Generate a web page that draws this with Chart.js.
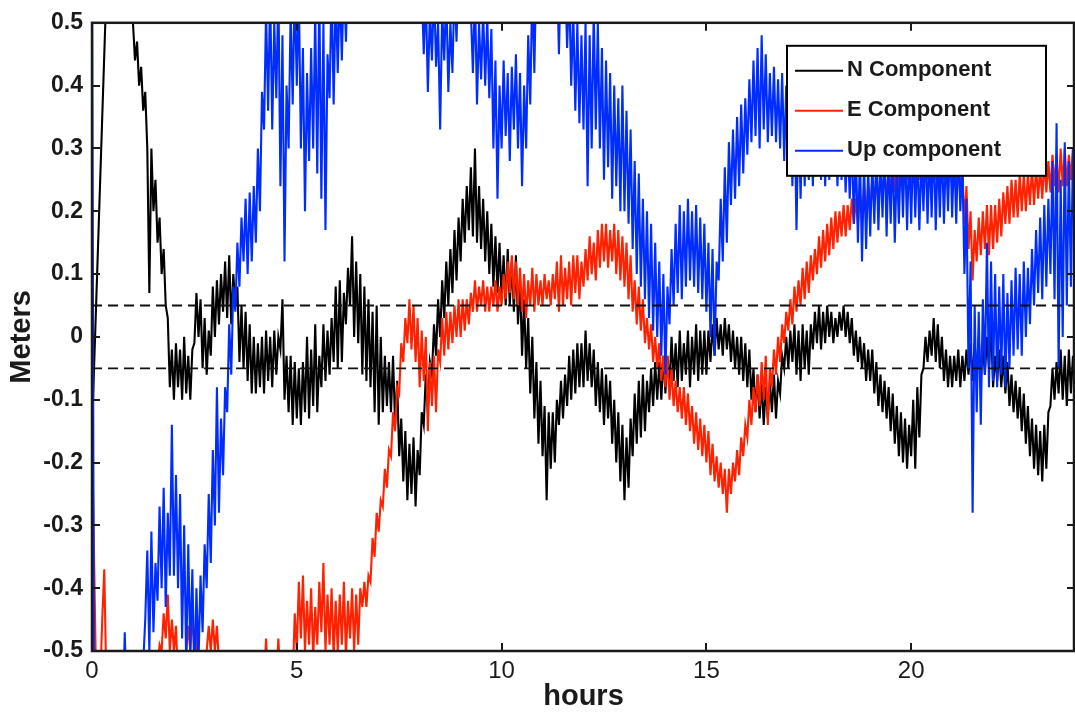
<!DOCTYPE html>
<html>
<head>
<meta charset="utf-8">
<title>GPS position components</title>
<script src="https://cdn.jsdelivr.net/npm/chart.js@4.4.1/dist/chart.umd.min.js"></script>
<style>
  html, body { margin: 0; padding: 0; background: #fff; }
  #wrap { width: 1075px; height: 718px; }
</style>
</head>
<body>
<div id="wrap"><canvas id="myChart"></canvas></div>
<script>
// one sample every 0.05 h, 0 .. 24 h (one row per hour)
const sampleStep = 0.05;

const nComponent = [
  -0.15, -0.05, 0.05, 0.15, 0.25, 0.35, 0.45, 0.55, 0.62, 0.65, 0.67, 0.68, 0.69, 0.68, 0.66, 0.64, 0.62, 0.60, 0.57, 0.54,
  0.50, 0.44, 0.47, 0.40, 0.43, 0.36, 0.39, 0.30, 0.07, 0.30, 0.20, 0.25, 0.15, 0.19, 0.10, 0.14, 0.05, 0.03, -0.08, -0.02,
  -0.10, -0.01, -0.08, -0.02, -0.10, 0.00, -0.09, -0.03, -0.10, -0.02, -0.01, 0.07, 0.00, 0.06, -0.05, 0.03, -0.06, 0.01, -0.03, 0.08,
  0.00, 0.09, 0.02, 0.10, 0.04, 0.12, 0.03, 0.13, 0.02, 0.10, 0.05, 0.08, -0.04, 0.05, -0.05, 0.04, -0.07, 0.02, -0.09, 0.00,
  -0.09, -0.01, -0.08, 0.00, -0.09, 0.01, -0.07, 0.00, -0.08, 0.01, -0.06, 0.00, -0.02, 0.06, -0.10, -0.03, -0.12, -0.03, -0.14, -0.04,
  -0.13, -0.05, -0.14, -0.04, -0.12, 0.00, -0.13, -0.02, -0.11, 0.02, -0.12, -0.03, -0.08, 0.02, -0.07, 0.01, -0.06, 0.03, -0.04, 0.08,
  -0.05, 0.09, -0.04, 0.07, 0.02, 0.11, 0.05, 0.16, 0.00, 0.12, -0.01, 0.10, -0.06, 0.08, -0.07, 0.06, -0.08, 0.04, -0.12, 0.05,
  -0.14, 0.00, -0.12, -0.03, -0.11, -0.04, -0.12, -0.03, -0.14, -0.07, -0.19, -0.13, -0.23, -0.15, -0.26, -0.17, -0.25, -0.16, -0.27, -0.18,
  -0.22, -0.12, -0.14, -0.06, -0.12, -0.04, -0.06, 0.02, -0.03, 0.06, 0.00, 0.09, 0.03, 0.12, 0.05, 0.14, 0.07, 0.17, 0.09, 0.19,
  0.12, 0.22, 0.15, 0.24, 0.17, 0.27, 0.16, 0.30, 0.15, 0.24, 0.14, 0.22, 0.12, 0.20, 0.10, 0.18, 0.08, 0.16, 0.07, 0.15,
  0.06, 0.13, 0.05, 0.14, 0.05, 0.12, 0.04, 0.13, 0.02, 0.09, -0.03, 0.06, -0.05, 0.03, -0.09, 0.00, -0.13, -0.04, -0.17, -0.07,
  -0.19, -0.11, -0.26, -0.12, -0.21, -0.12, -0.20, -0.10, -0.14, -0.07, -0.13, -0.06, -0.11, -0.03, -0.10, -0.02, -0.09, -0.01, -0.08, -0.01,
  -0.08, 0.01, -0.07, -0.01, -0.08, -0.02, -0.11, -0.04, -0.12, -0.05, -0.14, -0.06, -0.13, -0.07, -0.17, -0.10, -0.20, -0.12, -0.23, -0.14,
  -0.26, -0.16, -0.24, -0.13, -0.19, -0.09, -0.17, -0.07, -0.16, -0.06, -0.15, -0.07, -0.12, -0.05, -0.11, -0.04, -0.10, -0.04, -0.10, -0.03,
  -0.09, -0.03, -0.08, 0.00, -0.07, -0.01, -0.08, 0.01, -0.07, -0.01, -0.06, 0.01, -0.08, 0.00, -0.06, 0.02, -0.07, 0.01, -0.06, 0.01,
  -0.06, 0.01, -0.04, 0.02, -0.03, 0.03, -0.02, 0.02, -0.03, 0.03, -0.02, 0.02, -0.04, 0.01, -0.05, 0.00, -0.06, 0.00, -0.07, -0.01,
  -0.08, -0.02, -0.10, -0.05, -0.12, -0.06, -0.13, -0.07, -0.14, -0.08, -0.13, -0.07, -0.12, -0.06, -0.13, -0.07, -0.09, -0.03, -0.05, 0.00,
  -0.05, 0.01, -0.04, 0.02, -0.06, 0.01, -0.07, 0.02, -0.05, 0.01, -0.06, 0.02, -0.02, 0.04, -0.01, 0.05, -0.02, 0.04, -0.01, 0.05,
  0.00, 0.04, -0.01, 0.03, 0.00, 0.04, 0.01, 0.05, 0.00, 0.04, -0.01, 0.03, -0.03, 0.01, -0.04, 0.00, -0.05, -0.01, -0.07, -0.02,
  -0.07, -0.02, -0.09, -0.04, -0.11, -0.06, -0.12, -0.07, -0.13, -0.08, -0.15, -0.09, -0.17, -0.11, -0.19, -0.12, -0.20, -0.13, -0.21, -0.14,
  -0.19, -0.10, -0.21, -0.08, -0.16, -0.06, -0.05, 0.00, -0.04, 0.01, -0.03, 0.03, -0.04, 0.02, -0.05, 0.00, -0.07, -0.02, -0.08, -0.03,
  -0.08, -0.03, -0.07, -0.02, -0.08, -0.03, -0.07, -0.02, -0.06, -0.01, -0.07, -0.01, -0.06, 0.00, -0.07, -0.01, -0.06, 0.00, -0.05, 0.02,
  -0.08, -0.03, -0.07, -0.02, -0.08, -0.03, -0.09, -0.04, -0.11, -0.06, -0.12, -0.07, -0.13, -0.08, -0.15, -0.09, -0.17, -0.11, -0.19, -0.13,
  -0.21, -0.14, -0.22, -0.15, -0.23, -0.14, -0.21, -0.12, -0.11, -0.05, -0.10, -0.04, -0.09, -0.02, -0.10, -0.03, -0.11, -0.02, -0.09, -0.03,
  -0.06
];

const eComponent = [
  -0.15, -0.35, -0.55, -0.60, -0.55, -0.45, -0.37, -0.55, -0.60, -0.60, -0.60, -0.60, -0.60, -0.60, -0.60, -0.60, -0.60, -0.60, -0.60, -0.60,
  -0.60, -0.60, -0.60, -0.60, -0.60, -0.60, -0.60, -0.60, -0.60, -0.60, -0.60, -0.60, -0.53, -0.49, -0.50, -0.44, -0.48, -0.41, -0.50, -0.45,
  -0.50, -0.46, -0.55, -0.60, -0.60, -0.58, -0.50, -0.46, -0.50, -0.44, -0.50, -0.47, -0.56, -0.60, -0.58, -0.55, -0.50, -0.46, -0.50, -0.45,
  -0.50, -0.46, -0.52, -0.60, -0.60, -0.60, -0.60, -0.60, -0.60, -0.60, -0.60, -0.60, -0.60, -0.60, -0.60, -0.60, -0.60, -0.60, -0.60, -0.60,
  -0.60, -0.60, -0.60, -0.60, -0.55, -0.48, -0.55, -0.60, -0.60, -0.60, -0.55, -0.48, -0.55, -0.60, -0.60, -0.60, -0.60, -0.60, -0.55, -0.44,
  -0.50, -0.39, -0.48, -0.38, -0.50, -0.42, -0.49, -0.40, -0.51, -0.43, -0.49, -0.39, -0.47, -0.36, -0.50, -0.41, -0.49, -0.40, -0.51, -0.42,
  -0.50, -0.41, -0.49, -0.39, -0.51, -0.42, -0.48, -0.40, -0.50, -0.41, -0.49, -0.40, -0.43, -0.39, -0.43, -0.38, -0.39, -0.32, -0.35, -0.28,
  -0.31, -0.26, -0.27, -0.21, -0.24, -0.18, -0.19, -0.12, -0.15, -0.08, -0.09, -0.01, -0.04, 0.03, -0.01, 0.06, -0.02, 0.05, -0.04, 0.03,
  -0.08, 0.01, -0.07, 0.00, -0.15, -0.04, -0.11, -0.03, -0.12, -0.02, -0.04, 0.03, -0.03, 0.04, -0.02, 0.04, -0.01, 0.05, 0.00, 0.06,
  0.00, 0.06, 0.01, 0.06, 0.02, 0.07, 0.04, 0.09, 0.04, 0.08, 0.05, 0.09, 0.04, 0.08, 0.04, 0.08, 0.05, 0.09, 0.04, 0.08,
  0.05, 0.10, 0.06, 0.12, 0.07, 0.13, 0.06, 0.12, 0.05, 0.11, 0.04, 0.10, 0.03, 0.09, 0.05, 0.11, 0.04, 0.10, 0.05, 0.09,
  0.05, 0.10, 0.06, 0.09, 0.05, 0.10, 0.06, 0.12, 0.04, 0.13, 0.05, 0.11, 0.06, 0.12, 0.05, 0.13, 0.07, 0.13, 0.06, 0.12,
  0.08, 0.14, 0.09, 0.16, 0.10, 0.15, 0.09, 0.17, 0.11, 0.18, 0.12, 0.18, 0.11, 0.17, 0.12, 0.18, 0.10, 0.17, 0.09, 0.16,
  0.08, 0.15, 0.06, 0.13, 0.04, 0.09, 0.02, 0.08, 0.01, 0.06, -0.01, 0.03, -0.02, 0.02, -0.04, 0.00, -0.05, -0.01, -0.07, -0.03,
  -0.08, -0.03, -0.10, -0.05, -0.11, -0.07, -0.12, -0.08, -0.13, -0.08, -0.14, -0.09, -0.15, -0.11, -0.17, -0.12, -0.18, -0.13, -0.19, -0.14,
  -0.20, -0.15, -0.22, -0.17, -0.23, -0.19, -0.24, -0.20, -0.25, -0.21, -0.28, -0.21, -0.25, -0.20, -0.23, -0.18, -0.22, -0.16, -0.19, -0.14,
  -0.16, -0.10, -0.14, -0.08, -0.12, -0.06, -0.11, -0.04, -0.10, -0.03, -0.14, -0.05, -0.08, -0.02, -0.06, 0.00, -0.04, 0.02, -0.01, 0.04,
  0.01, 0.06, 0.02, 0.08, 0.04, 0.09, 0.05, 0.11, 0.06, 0.12, 0.07, 0.13, 0.09, 0.14, 0.10, 0.16, 0.11, 0.17, 0.12, 0.18,
  0.13, 0.19, 0.14, 0.20, 0.15, 0.20, 0.16, 0.21, 0.16, 0.21, 0.17, 0.22, 0.18, 0.22, 0.18, 0.23, 0.19, 0.24, 0.19, 0.24,
  0.20, 0.25, 0.21, 0.25, 0.21, 0.26, 0.22, 0.26, 0.22, 0.27, 0.23, 0.27, 0.23, 0.28, 0.24, 0.28, 0.24, 0.28, 0.25, 0.29,
  0.24, 0.29, 0.25, 0.29, 0.25, 0.30, 0.24, 0.29, 0.25, 0.30, 0.24, 0.29, 0.25, 0.29, 0.24, 0.29, 0.25, 0.30, 0.24, 0.29,
  0.24, 0.29, 0.23, 0.28, 0.22, 0.27, 0.18, 0.24, 0.14, 0.20, 0.09, 0.17, 0.12, 0.19, 0.13, 0.20, 0.14, 0.21, 0.13, 0.21,
  0.14, 0.21, 0.15, 0.22, 0.16, 0.23, 0.18, 0.24, 0.18, 0.25, 0.19, 0.25, 0.19, 0.26, 0.20, 0.26, 0.20, 0.26, 0.21, 0.27,
  0.21, 0.27, 0.22, 0.27, 0.22, 0.28, 0.23, 0.28, 0.23, 0.29, 0.24, 0.29, 0.23, 0.30, 0.24, 0.30, 0.24, 0.29, 0.25, 0.30,
  0.27
];

const upComponent = [
  0.60, -0.60, -0.60, -0.60, -0.60, -0.60, -0.60, -0.60, -0.60, -0.60, -0.60, -0.60, -0.60, -0.60, -0.60, -0.60, -0.47, -0.60, -0.60, -0.60,
  -0.60, -0.60, -0.60, -0.60, -0.60, -0.52, -0.45, -0.34, -0.50, -0.31, -0.47, -0.36, -0.42, -0.27, -0.40, -0.24, -0.43, -0.28, -0.38, -0.14,
  -0.38, -0.22, -0.40, -0.25, -0.48, -0.30, -0.52, -0.33, -0.50, -0.37, -0.55, -0.40, -0.52, -0.38, -0.47, -0.33, -0.40, -0.25, -0.36, -0.18,
  -0.30, -0.08, -0.28, -0.13, -0.22, -0.08, -0.12, 0.02, -0.06, 0.08, 0.04, 0.15, 0.08, 0.19, 0.12, 0.22, 0.10, 0.23, 0.12, 0.24,
  0.15, 0.30, 0.20, 0.39, 0.33, 0.52, 0.36, 0.55, 0.33, 0.50, 0.38, 0.56, 0.24, 0.48, 0.12, 0.40, 0.30, 0.52, 0.37, 0.56,
  0.40, 0.55, 0.30, 0.46, 0.20, 0.42, 0.28, 0.46, 0.30, 0.52, 0.26, 0.55, 0.22, 0.50, 0.17, 0.45, 0.38, 0.56, 0.37, 0.55,
  0.42, 0.56, 0.44, 0.58, 0.47, 0.60, 0.60, 0.60, 0.60, 0.60, 0.60, 0.60, 0.60, 0.60, 0.60, 0.60, 0.60, 0.60, 0.60, 0.60,
  0.60, 0.60, 0.60, 0.60, 0.60, 0.60, 0.60, 0.60, 0.60, 0.60, 0.60, 0.60, 0.60, 0.60, 0.60, 0.60, 0.60, 0.60, 0.60, 0.60,
  0.60, 0.56, 0.45, 0.55, 0.39, 0.52, 0.44, 0.56, 0.43, 0.50, 0.33, 0.52, 0.44, 0.55, 0.39, 0.50, 0.42, 0.56, 0.47, 0.60,
  0.60, 0.60, 0.60, 0.60, 0.60, 0.52, 0.42, 0.55, 0.37, 0.50, 0.41, 0.52, 0.40, 0.51, 0.38, 0.49, 0.30, 0.44, 0.22, 0.40,
  0.30, 0.44, 0.32, 0.42, 0.28, 0.43, 0.33, 0.45, 0.30, 0.42, 0.24, 0.40, 0.30, 0.48, 0.37, 0.56, 0.42, 0.60, 0.60, 0.60,
  0.60, 0.60, 0.60, 0.60, 0.60, 0.60, 0.60, 0.60, 0.45, 0.60, 0.60, 0.58, 0.46, 0.56, 0.40, 0.52, 0.36, 0.50, 0.34, 0.48,
  0.33, 0.50, 0.24, 0.48, 0.30, 0.52, 0.33, 0.50, 0.30, 0.46, 0.25, 0.44, 0.27, 0.42, 0.22, 0.40, 0.24, 0.38, 0.20, 0.40,
  0.20, 0.36, 0.18, 0.33, 0.14, 0.28, 0.10, 0.26, 0.08, 0.22, 0.06, 0.20, 0.03, 0.18, 0.01, 0.15, 0.00, 0.12, -0.03, 0.10,
  -0.06, 0.08, 0.02, 0.14, 0.05, 0.18, 0.07, 0.21, 0.06, 0.20, 0.08, 0.22, 0.09, 0.20, 0.08, 0.21, 0.07, 0.19, 0.06, 0.18,
  0.04, 0.15, 0.00, 0.14, -0.03, 0.12, 0.09, 0.22, 0.12, 0.27, 0.15, 0.31, 0.21, 0.33, 0.22, 0.35, 0.24, 0.37, 0.26, 0.38,
  0.29, 0.41, 0.31, 0.44, 0.32, 0.46, 0.30, 0.48, 0.33, 0.45, 0.31, 0.42, 0.32, 0.43, 0.31, 0.41, 0.30, 0.42, 0.28, 0.40,
  0.26, 0.40, 0.24, 0.38, 0.17, 0.36, 0.22, 0.37, 0.24, 0.36, 0.25, 0.38, 0.24, 0.37, 0.26, 0.38, 0.25, 0.37, 0.24, 0.36,
  0.25, 0.36, 0.26, 0.35, 0.24, 0.34, 0.25, 0.33, 0.23, 0.32, 0.22, 0.32, 0.18, 0.30, 0.15, 0.29, 0.12, 0.28, 0.14, 0.27,
  0.16, 0.28, 0.18, 0.30, 0.17, 0.29, 0.19, 0.31, 0.16, 0.29, 0.18, 0.30, 0.15, 0.28, 0.18, 0.30, 0.19, 0.31, 0.17, 0.30,
  0.18, 0.31, 0.19, 0.30, 0.17, 0.29, 0.20, 0.31, 0.18, 0.30, 0.19, 0.32, 0.17, 0.30, 0.19, 0.31, 0.18, 0.30, 0.20, 0.32,
  0.19, 0.30, 0.18, 0.31, 0.20, 0.28, 0.10, 0.22, -0.05, 0.12, -0.28, 0.05, -0.12, 0.04, -0.14, 0.06, -0.06, 0.15, -0.08, 0.12,
  -0.07, 0.10, -0.08, 0.08, -0.06, 0.10, -0.08, 0.07, -0.05, 0.09, -0.03, 0.11, -0.02, 0.10, -0.03, 0.12, 0.00, 0.11, 0.02, 0.14,
  0.05, 0.17, 0.07, 0.19, 0.06, 0.21, 0.08, 0.22, 0.10, 0.28, 0.06, 0.34, -0.05, 0.25, 0.00, 0.31, 0.05, 0.28, 0.08, 0.30,
  0.12
];

// +/- 5 cm threshold
const thresholdLevels = [0.05, -0.05];

const seriesLabels = ['N Component', 'E Component', 'Up component'];
const seriesColors = ['#000000', 'rgb(255,34,0)', 'rgb(0,45,255)'];

const hours = nComponent.map((_, i) => Math.round(i * sampleStep * 100) / 100);
const toPoints = vals => vals.map((v, i) => ({ x: hours[i], y: v }));

const FONT = '"Liberation Sans", Arial, Helvetica, sans-serif';
const INK = '#1a1a1a';
Chart.defaults.font.family = FONT;
Chart.defaults.color = INK;

// frame, inward tick marks and the boxed legend
const matlabFrame = {
  id: 'matlabFrame',
  afterDatasetsDraw(chart) {
    const { ctx, chartArea: a, scales: { x, y } } = chart;
    ctx.save();
    ctx.strokeStyle = INK;
    ctx.lineWidth = 2;
    ctx.beginPath();
    y.ticks.forEach(t => {
      const py = Math.round(y.getPixelForValue(t.value));
      ctx.moveTo(a.left, py); ctx.lineTo(a.left + 8, py);
      ctx.moveTo(a.right, py); ctx.lineTo(a.right - 8, py);
    });
    x.ticks.forEach(t => {
      const px = Math.round(x.getPixelForValue(t.value));
      ctx.moveTo(px, a.bottom); ctx.lineTo(px, a.bottom - 8);
      ctx.moveTo(px, a.top); ctx.lineTo(px, a.top + 8);
    });
    ctx.stroke();
    ctx.lineWidth = 2.5;
    ctx.strokeRect(a.left, a.top, a.right - a.left - 1, a.bottom - a.top);
    ctx.restore();
  },
  afterDraw(chart) {
    const { ctx, chartArea: a } = chart;
    const w = 259, h = 130;
    const left = a.right - 29 - w, top = a.top + 23;
    ctx.save();
    ctx.fillStyle = '#fff';
    ctx.fillRect(left, top, w, h);
    ctx.strokeStyle = '#000';
    ctx.lineWidth = 2;
    ctx.strokeRect(left, top, w, h);
    ctx.font = 'bold 22px ' + FONT;
    ctx.textBaseline = 'middle';
    ctx.fillStyle = INK;
    chart.data.datasets.filter(d => d.label).forEach((d, i) => {
      const cy = top + 24 + i * 40;
      ctx.strokeStyle = d.borderColor;
      ctx.lineWidth = 2;
      ctx.beginPath();
      ctx.moveTo(left + 8, cy + 1);
      ctx.lineTo(left + 56, cy + 1);
      ctx.stroke();
      ctx.fillText(d.label, left + 60, cy);
    });
    ctx.restore();
  }
};

const lineStyle = { borderWidth: 2.1, pointRadius: 0, tension: 0, fill: false };

const datasets = [
  { label: seriesLabels[0], data: toPoints(nComponent), borderColor: seriesColors[0], order: 3, ...lineStyle },
  { label: seriesLabels[1], data: toPoints(eComponent), borderColor: seriesColors[1], order: 2, ...lineStyle },
  { label: seriesLabels[2], data: toPoints(upComponent), borderColor: seriesColors[2], order: 1, ...lineStyle }
];
thresholdLevels.forEach(level => {
  datasets.push({
    label: '',
    data: [{ x: 0, y: level }, { x: 24, y: level }],
    borderColor: '#111',
    borderWidth: 1.8,
    borderDash: [10, 6],
    pointRadius: 0,
    order: 0
  });
});

const ctx = document.getElementById('myChart');
const myChart = new Chart(ctx, {
  type: 'line',
  data: { datasets: datasets },
  options: {
    responsive: true,
    maintainAspectRatio: false,
    devicePixelRatio: 1,
    animation: false,
    layout: { padding: { top: 21, right: 0, left: 0, bottom: 0 } },
    plugins: { legend: { display: false }, tooltip: { enabled: false } },
    scales: {
      x: {
        type: 'linear',
        min: 0,
        max: 24,
        grid: { display: false, drawTicks: false },
        border: { display: false },
        ticks: { stepSize: 5, includeBounds: false, padding: 6, maxRotation: 0, color: INK, font: { size: 24 } },
        title: { display: true, text: 'hours', color: INK, font: { size: 29, weight: 'bold' }, padding: { top: 0, bottom: 4 } },
        afterFit: s => { s.height = 67; }
      },
      y: {
        type: 'linear',
        min: -0.5,
        max: 0.5,
        grid: { display: false, drawTicks: false },
        border: { display: false },
        ticks: {
          stepSize: 0.1,
          padding: 9,
          color: INK,
          font: { size: 23, weight: 'bold' },
          callback: v => String(Math.round(v * 10) / 10)
        },
        title: { display: true, text: 'Meters', color: INK, font: { size: 29, weight: 'bold' }, padding: { top: 5, bottom: 0 } },
        afterFit: s => { s.width = 92; }
      }
    }
  },
  plugins: [matlabFrame]
});
</script>
</body>
</html>
